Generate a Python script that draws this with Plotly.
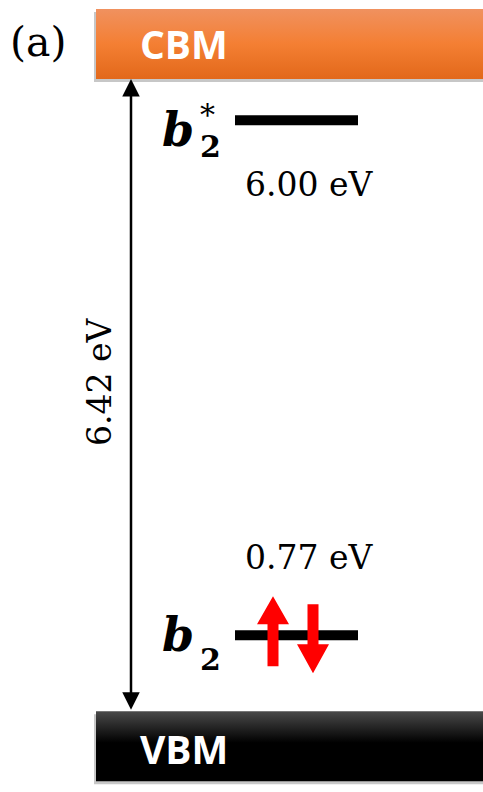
import plotly.graph_objects as go

# ---------------- data ----------------
band_names = ["VBM", "CBM"]
band_edge_ev = [0.0, 6.42]          # VBM top, CBM bottom (eV, relative to VBM)
gap_label = "6.42 eV"
level_names = ["b2", "b2*"]
level_energy_ev = [0.77, 6.00]
level_value_labels = ["0.77 eV", "6.00 eV"]
panel_label = "(a)"

# ---------------- layout constants ----------------
W, H = 483, 792
Y_RANGE = [-0.8205, 7.222]
PX_PER_EV = H / (Y_RANGE[1] - Y_RANGE[0])
BAND_THICK = 70 / PX_PER_EV
BAND_X0, BAND_X1 = 96, 495
SERIF = "DejaVu Serif"
SANS = "Open Sans"

fig = go.Figure()

vbm_top, cbm_bot = band_edge_ev
band_specs = {
    "CBM": (cbm_bot, cbm_bot + BAND_THICK,
            [[0, "#E2681A"], [0.5, "#F47F33"], [1, "#F0915F"]], 0),
    "VBM": (vbm_top - BAND_THICK, vbm_top,
            [[0, "#000000"], [0.55, "#000000"], [1, "#4A4A4A"]], -2),
}

for name in band_names:
    lo, hi, cs, tshift = band_specs[name]
    sh = 3 / PX_PER_EV
    # soft shadow
    fig.add_trace(go.Scatter(
        x=[BAND_X0 - 2, BAND_X1, BAND_X1, BAND_X0 - 2, BAND_X0 - 2],
        y=[lo - sh, lo - sh, hi - sh, hi - sh, lo - sh],
        mode="lines", line=dict(width=0), fill="toself",
        fillcolor="rgba(0,0,0,0.22)", hoverinfo="skip", showlegend=False))
    fig.add_trace(go.Scatter(
        x=[BAND_X0, BAND_X1, BAND_X1, BAND_X0, BAND_X0],
        y=[lo, lo, hi, hi, lo],
        mode="lines", line=dict(width=0), fill="toself",
        fillgradient=dict(type="vertical", colorscale=cs),
        hoverinfo="skip", showlegend=False))
    fig.add_annotation(x=138, y=(lo + hi) / 2, yshift=tshift, text=f"<b>{name}</b>",
                       showarrow=False, xanchor="left", yanchor="middle",
                       font=dict(family=SANS, size=39, color="white"))

# gap double arrow
fig.add_annotation(x=131, y=cbm_bot, ax=131, ay=vbm_top, axref="x", ayref="y",
                   xref="x", yref="y", text="", showarrow=True,
                   arrowhead=2, startarrowhead=2, arrowside="end+start",
                   arrowwidth=2.5, arrowsize=1.4, startarrowsize=1.4,
                   arrowcolor="black", standoff=0, startstandoff=0)
fig.add_annotation(x=99, y=(cbm_bot + vbm_top) / 2, yshift=13, text=gap_label,
                   textangle=-90, showarrow=False,
                   font=dict(family=SERIF, size=33, color="black"))

# levels
for name, e, lab in zip(level_names, level_energy_ev, level_value_labels):
    fig.add_shape(type="line", x0=235, x1=358, y0=e, y1=e,
                  line=dict(color="black", width=10))
    star = name.endswith("*")
    fig.add_annotation(x=195, y=e, yshift=(-10 if star else 0), text="b",
                       showarrow=False, xanchor="right", borderpad=0,
                       font=dict(family=SERIF, size=46, color="black",
                                 weight="bold", style="italic"))
    fig.add_annotation(x=199, y=e, yshift=(-26 if star else -24), text="<b>2</b>",
                       showarrow=False, xanchor="left", borderpad=0,
                       font=dict(family=SERIF, size=30, color="black"))
    if star:
        fig.add_annotation(x=199, y=e, yshift=6, text="*", showarrow=False,
                           xanchor="left", borderpad=0,
                           font=dict(family=SERIF, size=30, color="black"))
        fig.add_annotation(x=309, y=e, yshift=-64, text=lab, showarrow=False,
                           font=dict(family=SERIF, size=33, color="black"))
    else:
        fig.add_annotation(x=309, y=e, yshift=78, text=lab, showarrow=False,
                           font=dict(family=SERIF, size=33, color="black"))

# electron spin arrows on b2 (pixel offsets relative to level)
e_b2 = level_energy_ev[0]
up_path = "M 267.5,-31 L 267.5,11 L 257,11 L 273,39 L 289,11 L 278.5,11 L 278.5,-31 Z"
dn_path = "M 307.5,31 L 307.5,-9 L 297,-9 L 313,-38 L 329,-9 L 318.5,-9 L 318.5,31 Z"
for p in (up_path, dn_path):
    fig.add_shape(type="path", path=p, ysizemode="pixel", yanchor=e_b2,
                  xref="x", yref="y", fillcolor="#FF0000",
                  line=dict(width=0))

fig.add_annotation(x=38, y=Y_RANGE[1], yshift=-42, text=panel_label,
                   showarrow=False, font=dict(family=SERIF, size=41, color="black"))

fig.update_layout(
    width=W, height=H, margin=dict(l=0, r=0, t=0, b=0),
    paper_bgcolor="white", plot_bgcolor="white",
    xaxis=dict(range=[0, W], visible=False, fixedrange=True),
    yaxis=dict(range=Y_RANGE, visible=False, fixedrange=True),
    showlegend=False,
)
fig.write_html("out.html", config={"displayModeBar": False},
               post_script="document.body.style.margin='0';")
